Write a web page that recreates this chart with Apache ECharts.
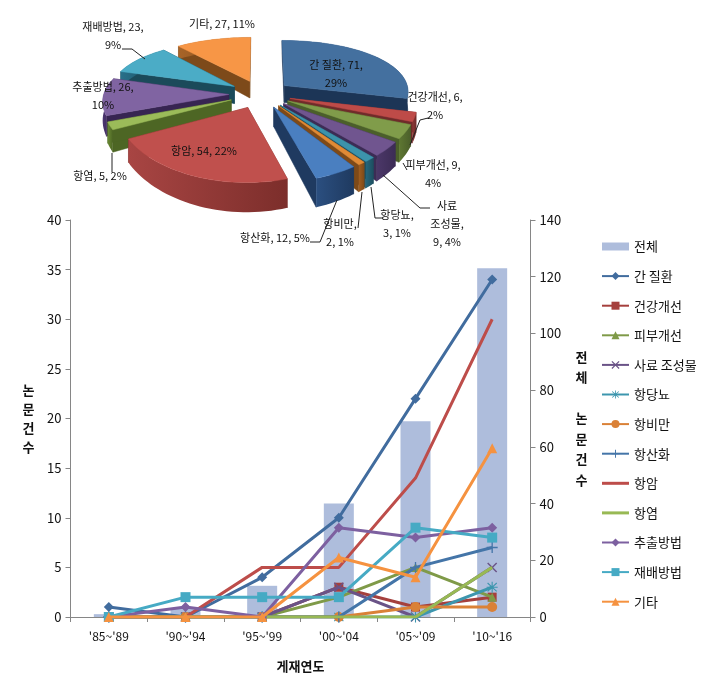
<!DOCTYPE html>
<html>
<head>
<meta charset="utf-8">
<style>html,body{margin:0;padding:0;background:#fff}#c{width:727px;height:695px}</style>
<script src="https://cdn.jsdelivr.net/npm/echarts@6/dist/echarts.min.js"></script>
</head>
<body>
<div id="c"></div>
<script>
// ---------- data ----------
const periods = ["'85~'89", "'90~'94", "'95~'99", "'00~'04", "'05~'09", "'10~'16"];
const totalValues = [1, 3, 11, 40, 69, 123];
const liver      = [1, 0, 4, 10, 22, 34];
const health     = [0, 0, 0, 3, 1, 2];
const skin       = [0, 0, 0, 2, 5, 2];
const feed       = [0, 0, 0, 3, 0, 5];
const diabetes   = [0, 0, 0, 0, 0, 3];
const obesity    = [0, 0, 0, 0, 1, 1];
const antioxid   = [0, 0, 0, 0, 5, 7];
const cancer     = [0, 0, 5, 5, 14, 30];
const inflamm    = [0, 0, 0, 0, 0, 5];
const extraction = [0, 1, 0, 9, 8, 9];
const cultivation= [0, 2, 2, 2, 9, 8];
const others     = [0, 0, 0, 6, 4, 17];

const pieNames  = ['간 질환','건강개선','피부개선','사료 조성물','항당뇨','항비만','항산화','항암','항염','추출방법','재배방법','기타'];
const pieValues = [71, 6, 9, 9, 3, 2, 12, 54, 5, 26, 23, 27];
const pieLabelTexts = ['간 질환, 71,\n29%','건강개선, 6,\n2%','피부개선, 9,\n4%','사료\n조성물,\n9, 4%','항당뇨,\n3, 1%','항비만,\n2, 1%','항산화, 12, 5%','항암, 54, 22%','항염, 5, 2%','추출방법, 26,\n10%','재배방법, 23,\n9%','기타, 27, 11%'];

// ---------- styles ----------
const lineColors = ['#416C9E','#A5403D','#7F9A48','#6A5387','#3D96AE','#DA8137','#4475A8','#BD4D4A','#98B954','#7D60A0','#46AAC4','#F59240'];
const sliceTop   = ['#44709F','#BE4B48','#809C4A','#70558F','#3C93AB','#E08A35','#4A7FC0','#C0504D','#9BBB59','#8064A2','#4BACC6','#F79646'];
const sliceWall  = ['#1C3556','#6F2B2A','#4B5F2A','#3C2C55','#1D4F60','#7E4A18','#1F3A60','#7C2E2B','#4D6624','#372552','#1B4A5A','#7D4A1A'];
const arcLight   = ['#2A4D7C','#8E3735','#5E7732','#4B3768','#25677C','#A05E20','#2B4F80','#A84543','#6A8A34','#4B3570','#28708A','#A86428'];

const X_SYM = 'path://M0,1 L1,0 L5,4 L9,0 L10,1 L6,5 L10,9 L9,10 L5,6 L1,10 L0,9 L4,5 Z';
const STAR_SYM = 'path://M4.5,0H5.5V3.8L8.8,0.8L9.5,1.5L6.2,4.5H10V5.5H6.2L9.5,8.5L8.8,9.2L5.5,6.2V10H4.5V6.2L1.2,9.2L0.5,8.5L3.8,5.5H0V4.5H3.8L0.5,1.5L1.2,0.8L4.5,3.8Z';
const PLUS_SYM = 'path://M4.4,0H5.6V4.4H10V5.6H5.6V10H4.4V5.6H0V4.4H4.4Z';
const seriesDefs = [
  ['간 질환', liver, 'diamond', 10],
  ['건강개선', health, 'rect', 9],
  ['피부개선', skin, 'triangle', 9],
  ['사료 조성물', feed, X_SYM, 10],
  ['항당뇨', diabetes, STAR_SYM, 11],
  ['항비만', obesity, 'circle', 10],
  ['항산화', antioxid, PLUS_SYM, 11],
  ['항암', cancer, 'none', 0],
  ['항염', inflamm, 'none', 0],
  ['추출방법', extraction, 'diamond', 10],
  ['재배방법', cultivation, 'rect', 10],
  ['기타', others, 'triangle', 10]
];

// ---------- pie projection ----------
const CX = 260, CY = 94, RX = 125, RY = 56, EXPLODE = 0.25, DEPTH = 18, PX = 0.1, PY = 0.18;
const pieTotal = pieValues.reduce((a, b) => a + b, 0);
const wx = Y => 1 / (1 - PX * Y), wy = Y => 1 / (1 - PY * Y);
const proj = (X, Y, drop) => [CX + X * RX * wx(Y), CY + Y * RY * wy(Y) + (drop ? DEPTH * wy(Y) * wy(Y) : 0)];
const startAngles = [];
pieValues.reduce((s, v, i) => { startAngles[i] = s; return s + v / pieTotal * Math.PI * 2; }, 0);
const midY = i => -Math.cos(startAngles[i] + pieValues[i] / pieTotal * Math.PI);
const drawOrder = pieValues.map((_, i) => i).sort((a, b) => midY(a) - midY(b));

function renderSlice(params, api) {
  const i = api.value(0), v = api.value(1);
  const a0 = startAngles[i], sweep = v / pieTotal * Math.PI * 2, am = a0 + sweep / 2;
  const ox = Math.sin(am) * EXPLODE, oy = -Math.cos(am) * EXPLODE;
  const steps = Math.max(3, Math.ceil(sweep / 0.04));
  const top = [], bot = [];
  for (let k = 0; k <= steps; k++) {
    const a = a0 + sweep * k / steps;
    const X = ox + Math.sin(a), Y = oy - Math.cos(a);
    top.push(proj(X, Y, false));
    bot.push(proj(X, Y, true));
  }
  const apexT = proj(ox, oy, false), apexB = proj(ox, oy, true);
  const rank = drawOrder.indexOf(i) * 10;
  const poly = (pts, fill, z) => ({
    type: 'polygon', z2: rank + z, silent: true,
    shape: { points: pts },
    style: { fill: fill, stroke: typeof fill === 'string' ? fill : null, lineWidth: 0.5 }
  });
  const arcPts = top.concat(bot.slice().reverse());
  const grad = { type: 'linear', x: 0, y: 0, x2: 1, y2: 0, colorStops: [
    { offset: 0, color: arcLight[i] }, { offset: 1, color: sliceWall[i] }
  ]};
  return { type: 'group', children: [
    poly([apexT, top[0], bot[0], apexB], sliceWall[i], 1),
    poly([apexT, top[steps], bot[steps], apexB], sliceWall[i], 2),
    poly(arcPts, grad, 3),
    poly([apexT].concat(top), sliceTop[i], 4)
  ]};
}

// where each pie label and its leader line sit on the page (layout only)
const pieLabelLayout = [
  { x: 336, y: 74 },
  { x: 435, y: 106, line: [[428,118],[420,120],[410,145]] },
  { x: 433, y: 174, line: [[407,170],[403,163]] },
  { x: 447, y: 224, line: [[430,208],[420,208],[383,175]] },
  { x: 397, y: 224, line: [[383,218],[375,218],[371,187]] },
  { x: 340, y: 233, line: [[358,228],[362,192]] },
  { x: 275, y: 238, line: [[310,242],[320,242],[337,200]] },
  { x: 204, y: 151 },
  { x: 100, y: 176, line: [[112,172],[112,153]] },
  { x: 103, y: 96 },
  { x: 113, y: 36, line: [[122,49],[132,49],[145,59]] },
  { x: 222, y: 24 }
];
function renderPieLabel(params, api) {
  const i = api.value(0), L = pieLabelLayout[i], kids = [];
  if (L.line) kids.push({ type: 'polyline', z2: 900, silent: true, shape: { points: L.line }, style: { stroke: '#222', lineWidth: 1, fill: null } });
  kids.push({ type: 'text', z2: 1000, silent: true, style: {
    x: L.x, y: L.y, text: pieLabelTexts[i], align: 'center', verticalAlign: 'middle',
    font: '11px "Noto Sans CJK KR"', lineHeight: 18, fill: '#111'
  }});
  return { type: 'group', children: kids };
}

const FONT = '"Noto Sans CJK KR"';
const axisLine = { show: true, lineStyle: { color: '#868686', width: 1 } };
const axisTick = { show: true, length: 5, lineStyle: { color: '#868686' } };
const lineSeries = seriesDefs.map((d, i) => ({
  name: d[0], type: 'line', data: d[1], yAxisIndex: 0, z: 3 + i,
  symbol: d[2], symbolSize: d[3], showSymbol: d[3] > 0, smooth: false,
  lineStyle: { color: lineColors[i], width: 3 },
  itemStyle: { color: lineColors[i], borderColor: lineColors[i], borderWidth: 0 },
  emphasis: { disabled: true }, animation: false
}));
const PLAIN_LINE = 'path://M0,3.5H27V6.5H0Z';

const option = {
  animation: false,
  textStyle: { fontFamily: FONT },
  grid: { left: 70.5, right: 196.5, top: 220, bottom: 78, containLabel: false },
  legend: {
    orient: 'vertical', left: 601, top: 240, padding: 0, itemWidth: 27, itemHeight: 10, itemGap: 16.6,
    textStyle: { fontSize: 13, color: '#111', fontFamily: FONT, lineHeight: 10 },
    selectedMode: false,
    data: [{ name: '전체', icon: 'path://M0,1H27V9H0Z' }].concat(seriesDefs.map(d =>
      d[3] > 0 ? { name: d[0] } : { name: d[0], icon: PLAIN_LINE }))
  },
  xAxis: [{
    type: 'category', data: periods, boundaryGap: true,
    axisLine: axisLine, axisTick: axisTick,
    axisLabel: { fontSize: 12, color: '#111', margin: 13, fontFamily: FONT },
    name: '게재연도', nameLocation: 'middle', nameGap: 43,
    nameTextStyle: { fontSize: 13, fontWeight: 'bold', color: '#111', fontFamily: FONT }
  }],
  yAxis: [{
    type: 'value', min: 0, max: 40, interval: 5, position: 'left',
    axisLine: axisLine, axisTick: axisTick, splitLine: { show: false },
    axisLabel: { fontSize: 13, color: '#111', margin: 9, fontFamily: FONT },
    name: '논\n문\n건\n수', nameLocation: 'middle', nameRotate: 0, nameGap: 36,
    nameTextStyle: { fontSize: 13, fontWeight: 'bold', color: '#111', lineHeight: 19, fontFamily: FONT }
  }, {
    type: 'value', min: 0, max: 140, interval: 20, position: 'right',
    axisLine: axisLine, axisTick: axisTick, splitLine: { show: false },
    axisLabel: { fontSize: 13, color: '#111', margin: 9, fontFamily: FONT },
    name: '전\n체\n\n논\n문\n건\n수', nameLocation: 'middle', nameRotate: 0, nameGap: 45,
    nameTextStyle: { fontSize: 13, fontWeight: 'bold', color: '#111', lineHeight: 20.5, fontFamily: FONT }
  }],
  series: [
    { name: '전체', type: 'bar', yAxisIndex: 1, data: totalValues, barWidth: 30, z: 1,
      itemStyle: { color: '#AEBDDC' }, emphasis: { disabled: true } }
  ].concat(lineSeries).concat([
    { type: 'custom', coordinateSystem: 'none', silent: true, z: 20, renderItem: renderSlice,
      data: pieValues.map((v, i) => [i, v]), tooltip: { show: false } },
    { type: 'custom', coordinateSystem: 'none', silent: true, z: 21, renderItem: renderPieLabel,
      data: pieValues.map((v, i) => [i, v]), tooltip: { show: false } }
  ])
};
echarts.init(document.getElementById('c'), null, { renderer: 'canvas' }).setOption(option);
</script>
</body>
</html>
